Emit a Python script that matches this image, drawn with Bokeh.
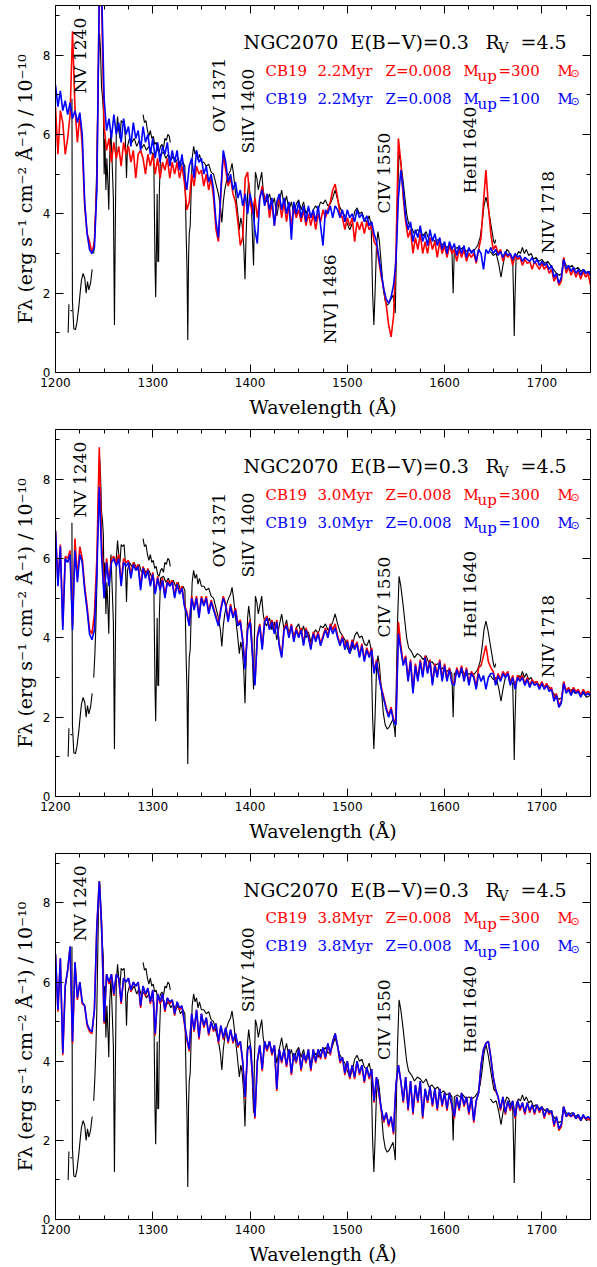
import numpy as np
from bokeh.plotting import figure
from bokeh.layouts import column
from bokeh.models import Range1d, SingleIntervalTicker, LinearAxis, CustomJSTickFormatter
from bokeh.core.properties import value
from bokeh.embed import file_html
from bokeh.resources import INLINE

# ---------------- data ----------------
# model wavelength grid (Angstrom), 2.5 A sampling from 1200 to 1750
wave_model = np.arange(1200.0, 1750.01, 2.5)

# Panel 1 : 2.2 Myr
blue_22 = [7.25, 6.7, 7.1, 6.6, 6.85, 6.5, 6.8, 6.4, 6.6, 6.3, 6.55, 6.0, 4.3, 3.5, 3.1, 3.0, 3.15, 4.6, 9.5, 9.6,
           6.9, 6.1, 6.4, 5.9, 6.5, 6.0, 6.3, 5.8, 6.4, 6.0, 6.2, 5.7, 6.3, 5.9, 6.1, 5.6, 6.2, 5.8, 6.0, 5.5,
           5.9, 5.4, 5.8, 5.3, 5.7, 5.5, 5.8, 5.2, 5.6, 5.3, 5.6, 5.1, 5.5, 5.0, 4.6, 5.2, 5.4, 4.9, 5.6, 5.3,
           5.4, 5.0, 5.2, 4.8, 5.0, 4.6, 3.8, 3.4, 4.6, 5.6, 5.3, 4.8, 5.0, 4.6, 4.8, 4.4, 4.6, 4.2, 4.5, 4.0,
           4.5, 4.2, 3.6, 3.25, 4.4, 4.6, 4.2, 4.5, 4.1, 4.4, 3.7, 4.3, 4.5, 4.1, 4.4, 4.0, 4.3, 3.35, 4.3, 4.0,
           4.3, 3.9, 4.2, 3.8, 4.2, 3.9, 4.1, 3.8, 4.2, 3.7, 3.2, 4.1, 4.0, 4.2, 3.9, 4.2, 4.1, 3.9, 4.1, 3.8,
           4.1, 3.9, 4.0, 3.8, 4.1, 3.9, 4.0, 3.8, 3.95, 3.7, 3.8, 3.5, 3.3, 2.9, 2.5, 2.1, 1.85, 1.75, 1.9, 2.2,
           2.8, 4.4, 5.1, 4.6, 3.9, 3.6, 3.8, 3.3, 3.6, 3.4, 3.7, 3.3, 3.5, 3.2, 3.6, 3.3, 3.5, 3.2, 3.4, 3.1,
           3.3, 3.0, 3.3, 3.1, 3.25, 2.95, 3.2, 3.0, 3.2, 2.9, 3.15, 3.0, 3.1, 2.8, 3.1, 3.0, 2.6, 3.1, 3.0, 3.15,
           3.0, 3.1, 2.95, 3.05, 2.9, 3.05, 2.95, 3.0, 2.85, 3.0, 2.9, 2.95, 2.8, 2.9, 2.85, 2.8, 2.9, 2.75, 2.85, 2.7,
           2.8, 2.7, 2.75, 2.6, 2.7, 2.4, 2.5, 2.25, 2.4, 2.85, 2.6, 2.7, 2.55, 2.65, 2.5, 2.6, 2.45, 2.6, 2.5, 2.55,
           2.45]
red_22 = [6.7, 5.5, 6.6, 6.3, 5.5, 5.9, 6.5, 8.6, 6.7, 5.8, 6.5, 5.7, 4.2, 3.5, 3.3, 3.0, 3.3, 4.8, 9.6, 9.2,
          6.2, 5.6, 5.9, 5.3, 5.8, 5.4, 5.7, 5.2, 5.8, 5.5, 5.7, 5.3, 5.6, 4.9, 5.5, 5.6, 5.4, 5.0, 5.5, 5.2,
          5.5, 5.0, 5.4, 4.9, 5.3, 5.1, 5.4, 4.9, 5.3, 5.0, 5.3, 4.9, 5.2, 4.8, 4.1, 4.3, 5.0, 4.7, 5.2, 5.0,
          5.1, 4.7, 5.0, 4.6, 4.9, 4.4, 3.6, 3.3, 4.5, 5.5, 5.1, 4.7, 4.9, 4.5, 4.3, 3.8, 3.2, 3.4, 4.9, 5.05,
          4.3, 4.0, 4.4, 3.9, 4.4, 4.7, 4.3, 4.5, 3.9, 4.3, 3.7, 4.2, 4.4, 3.9, 4.3, 3.8, 4.2, 3.7, 4.2, 3.9,
          4.1, 3.8, 4.1, 3.7, 4.0, 3.7, 4.0, 3.6, 4.0, 3.8, 4.1, 3.9, 4.1, 4.3, 4.6, 4.75, 4.4, 4.0, 3.9, 3.6,
          3.9, 3.7, 3.9, 3.3, 3.8, 3.6, 3.8, 3.5, 3.8, 3.6, 3.7, 3.3, 3.2, 2.8, 2.4, 2.1, 1.7, 1.2, 0.9, 1.4,
          3.0, 5.9, 5.3, 4.4, 3.8, 3.4, 3.6, 3.0, 3.4, 3.1, 3.5, 3.0, 3.3, 3.0, 3.4, 3.1, 3.3, 2.9, 3.3, 3.0,
          3.2, 2.9, 3.2, 3.0, 3.1, 2.8, 3.1, 2.9, 3.1, 2.8, 3.0, 2.9, 3.0, 2.75, 3.1, 3.4, 4.3, 5.1, 4.2, 3.5,
          3.1, 3.2, 3.0, 3.1, 2.8, 3.0, 2.9, 3.0, 2.7, 2.95, 2.85, 2.9, 2.7, 2.85, 2.75, 2.8, 2.6, 2.8, 2.7, 2.6,
          2.75, 2.6, 2.7, 2.5, 2.6, 2.3, 2.45, 2.2, 2.3, 2.9, 2.5, 2.65, 2.45, 2.6, 2.4, 2.55, 2.35, 2.55, 2.4, 2.5,
          2.2]

# Panel 2 : 3.0 Myr
blue_30 = [6.7, 5.3, 6.3, 4.2, 6.0, 5.9, 6.1, 4.2, 6.2, 5.4, 6.1, 5.9, 5.2, 4.7, 4.1, 3.95, 4.2, 5.6, 7.8, 6.0,
           5.0, 5.9, 5.3, 5.9, 6.0, 5.8, 6.0, 5.3, 5.9, 5.8, 5.9, 5.5, 5.85, 5.7, 5.8, 5.2, 5.75, 5.5, 5.7, 5.3,
           5.6, 5.1, 5.5, 5.2, 5.45, 5.0, 5.4, 5.3, 5.4, 5.0, 5.35, 5.1, 5.25, 4.8, 4.6, 4.3, 5.0, 4.7, 5.0, 4.5,
           5.0, 4.8, 5.0, 4.6, 4.9, 4.7, 4.5, 4.3, 4.7, 5.0, 4.8, 4.4, 4.8, 4.5, 4.7, 4.3, 4.4, 3.9, 3.2, 4.2,
           4.4, 3.6, 2.8, 4.0, 4.3, 3.7, 4.4, 4.5, 4.2, 4.4, 4.1, 4.4, 3.8, 3.5, 4.2, 4.3, 4.0, 4.3, 3.9, 4.2,
           4.0, 4.2, 3.8, 4.2, 4.0, 3.7, 4.1, 3.9, 4.1, 3.8, 4.0, 4.2, 4.0, 4.3, 4.1, 4.25, 4.0, 3.8, 4.0, 3.7,
           3.9, 3.6, 3.9, 3.7, 3.85, 3.5, 3.8, 3.4, 3.7, 3.5, 3.7, 3.1, 3.4, 3.0, 2.7, 2.45, 2.2, 2.0, 2.2, 1.9,
           1.8, 4.1, 3.7, 3.3, 3.5, 2.9, 3.4, 2.6, 3.3, 2.9, 3.4, 3.0, 3.5, 3.1, 3.4, 2.8, 3.3, 3.0, 3.4, 2.9,
           3.3, 2.9, 3.2, 2.85, 2.8, 3.2, 3.0, 3.25, 2.9, 3.2, 2.8, 3.1, 3.0, 2.7, 3.1, 2.9, 3.05, 2.7, 3.0, 3.1,
           3.1, 2.8, 3.05, 2.9, 3.1, 3.0, 3.1, 2.8, 3.0, 2.7, 3.0, 2.9, 3.0, 2.8, 2.95, 2.75, 2.9, 2.8, 2.85, 2.7,
           2.85, 2.7, 2.8, 2.65, 2.7, 2.4, 2.55, 2.25, 2.35, 2.85, 2.6, 2.7, 2.55, 2.7, 2.6, 2.65, 2.5, 2.65, 2.55, 2.6,
           2.55]
red_30 = [6.7, 5.4, 6.35, 4.3, 6.05, 6.0, 6.2, 4.3, 6.5, 5.5, 6.3, 6.0, 5.3, 4.8, 4.2, 4.1, 4.6, 6.0, 8.8, 6.4,
          5.1, 6.0, 5.4, 6.0, 6.05, 5.9, 6.1, 5.4, 6.0, 5.9, 5.95, 5.6, 5.9, 5.75, 5.85, 5.3, 5.8, 5.55, 5.75, 5.35,
          5.65, 5.15, 5.55, 5.25, 5.5, 5.05, 5.45, 5.35, 5.45, 5.05, 5.4, 5.15, 5.3, 4.85, 4.65, 4.35, 5.05, 4.75, 5.05, 4.55,
          5.05, 4.85, 5.05, 4.65, 4.95, 4.75, 4.55, 4.35, 4.75, 5.05, 4.85, 4.45, 4.85, 4.55, 4.75, 4.35, 4.45, 3.95, 3.25, 4.25,
          4.45, 3.65, 2.85, 4.05, 4.35, 3.75, 4.45, 4.55, 4.25, 4.45, 4.15, 4.45, 3.85, 3.55, 4.25, 4.35, 4.05, 4.35, 3.95, 4.25,
          4.05, 4.25, 3.85, 4.25, 4.05, 3.75, 4.15, 3.95, 4.15, 3.85, 4.05, 4.25, 4.05, 4.35, 4.2, 4.35, 4.05, 3.85, 4.05, 3.75,
          3.95, 3.65, 3.95, 3.75, 3.9, 3.55, 3.85, 3.45, 3.75, 3.55, 3.75, 3.15, 3.45, 3.05, 2.75, 2.5, 2.25, 2.05, 2.25, 1.95,
          1.85, 4.4, 3.8, 3.35, 3.55, 2.95, 3.45, 2.65, 3.35, 2.95, 3.45, 3.05, 3.55, 3.15, 3.45, 2.85, 3.35, 3.05, 3.45, 2.95,
          3.35, 2.95, 3.25, 2.9, 2.85, 3.25, 3.05, 3.3, 2.95, 3.25, 2.85, 3.15, 3.05, 2.75, 3.25, 3.3, 3.55, 3.8, 3.4, 3.25,
          3.15, 2.85, 3.1, 2.95, 3.15, 3.05, 3.15, 2.85, 3.05, 2.75, 3.05, 2.95, 3.05, 2.85, 3.0, 2.8, 2.95, 2.85, 2.9, 2.75,
          2.9, 2.75, 2.85, 2.7, 2.75, 2.45, 2.6, 2.3, 2.4, 2.9, 2.65, 2.75, 2.6, 2.75, 2.65, 2.7, 2.55, 2.7, 2.6, 2.65,
          2.6]

# Panel 3 : 3.8 Myr
blue_38 = [6.7, 5.3, 6.6, 4.2, 5.9, 6.3, 6.9, 4.5, 6.5, 5.6, 6.0, 5.5, 5.4, 4.95, 4.8, 4.75, 5.3, 7.4, 8.55, 7.4,
           5.0, 6.2, 6.0, 6.2, 5.7, 6.2, 6.1, 5.5, 6.1, 6.0, 6.1, 5.8, 6.0, 5.9, 6.0, 5.4, 5.9, 5.7, 5.85, 5.5,
           5.8, 4.7, 5.7, 5.5, 5.7, 5.3, 5.6, 5.5, 5.55, 5.2, 5.5, 5.35, 5.4, 5.0, 4.6, 4.3, 5.2, 4.8, 5.3, 4.6,
           5.2, 4.9, 5.1, 4.7, 5.0, 4.8, 4.95, 4.5, 4.9, 4.6, 4.85, 4.5, 4.8, 4.5, 4.7, 4.4, 4.5, 4.0, 3.1, 4.3,
           4.4, 3.7, 2.6, 4.0, 4.4, 3.8, 4.5, 4.3, 4.5, 4.2, 4.4, 3.3, 4.3, 4.0, 4.3, 3.9, 4.3, 3.7, 4.2, 4.0,
           4.3, 3.8, 4.2, 4.0, 4.3, 3.8, 4.3, 4.0, 4.3, 4.1, 4.35, 4.1, 4.45, 4.2, 4.5, 4.7, 4.4, 4.0, 4.1, 3.7,
           4.0, 3.6, 3.9, 3.6, 4.0, 3.7, 3.9, 3.5, 3.85, 3.6, 3.8, 3.0, 3.6, 3.2, 2.8, 2.5, 2.7, 2.4, 2.6, 2.2,
           3.4, 3.9, 3.5, 3.0, 3.6, 2.8, 3.5, 2.7, 3.4, 3.0, 3.5, 2.6, 3.3, 3.0, 3.35, 2.9, 3.3, 2.8, 3.3, 2.9,
           3.2, 2.8, 3.2, 2.9, 2.6, 3.1, 2.8, 3.2, 2.9, 3.1, 2.7, 3.1, 2.5, 3.0, 3.2, 3.9, 4.3, 4.45, 4.5, 4.1,
           3.6, 3.3, 3.1, 2.8, 3.1, 2.7, 3.0, 2.8, 3.0, 2.6, 3.0, 2.8, 2.95, 2.7, 2.95, 2.75, 2.9, 2.7, 2.9, 2.75,
           2.85, 2.6, 2.8, 2.7, 2.75, 2.4, 2.6, 2.3, 2.4, 2.85, 2.6, 2.7, 2.6, 2.7, 2.55, 2.65, 2.5, 2.65, 2.55, 2.6,
           2.55]
red_38 = [6.7, 5.25, 6.6, 4.15, 5.9, 6.3, 6.9, 4.45, 6.5, 5.55, 6.0, 5.45, 5.4, 4.9, 4.75, 4.7, 5.3, 7.4, 8.55, 7.4,
          4.95, 6.2, 5.95, 6.2, 5.65, 6.2, 6.1, 5.45, 6.1, 6.0, 6.1, 5.75, 6.0, 5.9, 6.0, 5.35, 5.9, 5.65, 5.85, 5.45,
          5.8, 4.65, 5.7, 5.45, 5.7, 5.25, 5.6, 5.45, 5.55, 5.15, 5.5, 5.3, 5.4, 4.95, 4.55, 4.25, 5.2, 4.75, 5.3, 4.55,
          5.2, 4.85, 5.1, 4.65, 5.0, 4.75, 4.95, 4.45, 4.9, 4.55, 4.85, 4.45, 4.8, 4.45, 4.7, 4.35, 4.5, 3.95, 3.05, 4.3,
          4.4, 3.65, 2.55, 4.0, 4.4, 3.75, 4.5, 4.25, 4.5, 4.15, 4.4, 3.25, 4.3, 3.95, 4.3, 3.85, 4.3, 3.65, 4.2, 3.95,
          4.3, 3.75, 4.2, 3.95, 4.3, 3.75, 4.3, 3.95, 4.3, 4.05, 4.35, 4.05, 4.45, 4.15, 4.5, 4.7, 4.4, 3.95, 4.1, 3.65,
          4.0, 3.55, 3.9, 3.55, 4.0, 3.65, 3.9, 3.45, 3.85, 3.55, 3.8, 2.95, 3.6, 3.15, 2.75, 2.45, 2.7, 2.35, 2.6, 2.15,
          3.4, 3.9, 3.5, 2.95, 3.6, 2.75, 3.5, 2.65, 3.4, 2.95, 3.5, 2.55, 3.3, 2.95, 3.35, 2.85, 3.3, 2.75, 3.3, 2.85,
          3.2, 2.75, 3.2, 2.85, 2.55, 3.1, 2.75, 3.2, 2.85, 3.1, 2.65, 3.1, 2.45, 3.0, 3.2, 3.9, 4.3, 4.45, 4.5, 4.1,
          3.6, 3.25, 3.1, 2.75, 3.1, 2.65, 3.0, 2.75, 3.0, 2.55, 3.0, 2.75, 2.95, 2.65, 2.95, 2.7, 2.9, 2.65, 2.9, 2.7,
          2.85, 2.55, 2.8, 2.65, 2.75, 2.35, 2.6, 2.25, 2.35, 2.85, 2.6, 2.65, 2.6, 2.65, 2.55, 2.6, 2.5, 2.6, 2.55, 2.55,
          2.5]

# Observed NGC2070 spectrum (None = gap between observed segments)
obs_wave = [1213.0, 1213.8, None,
            1215.4, 1217.0, None,
            1216.9, 1217.4, 1218.8, 1220.5, 1222.0, 1224.0, 1225.5, 1226.7, 1228.4, 1230.1, 1231.5, 1232.9,
            1234.3, 1236.0, 1237.7, None,
            1239.3, 1240.5, 1241.5, 1242.5, 1243.5, 1244.5, 1245.3, 1246.3, 1247.3, 1248.3, 1249.2, 1250.0,
            1250.8, 1251.8, 1252.8, 1254.0, 1254.8, 1255.8, 1257.0, 1258.2, 1259.5, 1260.6, 1261.6, 1262.5,
            1263.8, 1265.0, 1266.3, 1267.5, 1269.0, 1270.5, 1271.8, 1273.0, 1274.0, 1276.0, 1278.5, 1281.0,
            1283.5, 1286.0, 1288.5, 1291.0, 1293.5, 1296.0, 1298.5, 1301.0, 1302.3, 1303.0, 1303.7, 1304.5,
            1305.2, 1306.0, 1306.8, 1308.0, 1311.0, 1313.5, 1316.0, 1318.5, 1321.0, 1323.5, 1326.0, 1328.5,
            1331.0, 1333.0, 1334.3, 1335.2, 1336.0, 1336.8, 1337.5, 1338.5, 1339.5, 1340.5, 1342.0, 1343.5,
            1345.0, 1346.5, 1348.0, 1350.0, 1352.5, 1355.0, 1357.5, 1360.0, 1362.5, 1365.0, 1367.5, 1369.5,
            1371.0, 1372.5, 1374.0, 1376.0, 1378.0, 1380.0, 1381.5, 1383.0, 1385.0, 1387.0, 1389.0, 1390.5,
            1392.0, 1393.5, 1394.8, 1396.0, 1397.5, 1398.6, 1400.0, 1401.5, 1402.5, 1403.6, 1404.5, 1405.5,
            1407.0, 1408.5, 1410.0, 1412.0, 1413.5, 1415.0, 1417.0, 1420.0, 1422.5, 1425.0, 1427.5, 1430.0,
            1432.5, 1435.0, 1437.5, 1440.0, 1442.5, 1445.0, 1447.5, 1450.0, 1452.5, 1455.0, 1457.5, 1460.0,
            1462.5, 1465.0, 1467.5, 1470.0, 1472.5, 1475.0, 1477.5, 1480.0, 1482.5, 1485.0, 1487.5, 1490.0,
            1492.5, 1495.0, 1497.5, 1500.0, 1502.5, 1505.0, 1507.5, 1510.0, 1512.5, 1515.0, 1517.5, 1520.0,
            1522.5, 1524.5, 1526.0, 1527.3, 1528.5, 1530.0, 1531.5, 1533.0, 1535.0, 1537.0, 1539.0, 1541.0,
            1543.0, 1545.0, 1547.0, 1548.5, 1549.3, 1550.3, 1551.5, 1553.2, 1555.0, 1557.0, 1559.0, 1561.0,
            1563.0, 1566.0, 1569.0, 1572.0, 1575.0, 1578.0, 1581.0, 1584.0, 1587.0, 1590.0, 1593.0, 1596.0,
            1599.0, 1602.0, 1605.0, 1607.5, 1608.8, 1610.0, 1613.0, 1616.0, 1619.0, 1622.0, 1625.0, 1628.0,
            1631.0, 1634.0, 1636.5, 1638.5, 1640.5, 1642.5, 1644.5, 1646.5, 1648.5, 1650.5, 1651.5, 1652.5, None,
            1647.0, 1650.0, 1653.0, 1655.5, 1658.0, 1660.0, 1662.0, 1664.0, 1666.0, 1668.0, 1670.0, 1671.0,
            1671.6, 1672.3, 1673.5, 1676.0, 1678.0, 1680.0, 1682.0, 1684.0, 1686.5, 1689.0, 1691.5, 1694.0,
            1697.0, 1700.0, 1703.0, 1706.0, 1709.0, 1712.0, 1715.0, 1718.0, 1720.5, 1722.0, 1725.0, 1728.0,
            1731.0, 1734.0, 1737.0, 1740.0, 1743.0, 1746.0, 1750.0, None,
            1290.0, 1291.5, 1293.0, 1294.5, 1296.0, 1297.5, 1299.0, 1300.5, 1302.0, 1303.5, 1305.0, 1306.5,
            1308.0, 1309.5, 1311.0, 1312.5, 1314.0, 1315.5, 1317.0, 1318.0]
obs_flux = [1.0, 1.72, None,
            1.57, 1.55, None,
            6.9, 1.8, 1.1, 1.08, 1.25, 1.66, 2.05, 2.33, 2.5, 2.37, 2.0, 2.29,
            2.08, 2.25, 2.6, None,
            3.0, 3.6, 4.3, 5.3, 6.8, 8.2, 8.55, 8.1, 7.2, 6.95, 6.6, 5.0,
            5.9, 4.6, 5.4, 4.7, 4.1, 5.5, 6.1, 5.3, 4.4, 1.2, 4.0, 6.0,
            6.45, 6.1, 5.9, 6.35, 6.3, 6.35, 5.9, 4.9, 5.7, 5.9, 5.8, 5.9,
            5.7, 5.85, 5.65, 5.75, 5.6, 5.7, 5.55, 5.5, 2.75, 1.9, 3.0, 4.5,
            2.8, 2.8, 4.6, 5.5, 5.55, 5.4, 5.5, 5.35, 5.45, 5.3, 5.4, 5.2,
            5.3, 5.2, 3.5, 2.6, 0.82, 2.9, 3.5, 3.7, 4.6, 5.4, 5.7, 5.5,
            5.6, 5.35, 5.5, 5.3, 5.3, 5.2, 5.25, 5.05, 5.0, 4.75, 4.5, 4.2,
            3.78, 4.3, 4.6, 4.85, 5.0, 5.1, 5.27, 5.0, 4.55, 4.1, 3.6, 3.9,
            3.7, 3.2, 2.35, 3.5, 4.5, 4.8, 4.5, 4.2, 3.4, 2.7, 4.0, 5.05,
            4.9, 4.6, 4.8, 5.05, 4.6, 4.4, 4.3, 4.5, 4.2, 4.4, 3.95, 4.3,
            4.6, 4.2, 4.45, 4.1, 4.3, 4.0, 4.25, 4.35, 4.1, 4.3, 4.0, 4.15,
            3.9, 4.1, 4.2, 4.1, 4.3, 4.25, 4.35, 4.2, 4.25, 4.4, 4.6, 4.35,
            4.15, 4.05, 3.95, 3.75, 3.6, 3.75, 4.05, 4.15, 4.0, 4.05, 3.85, 3.8,
            3.95, 3.7, 2.0, 1.2, 2.0, 3.2, 3.55, 3.3, 2.7, 2.1, 1.8, 1.7,
            1.75, 1.85, 1.95, 1.7, 1.5, 2.8, 4.3, 5.55, 5.3, 4.9, 4.45, 4.0,
            3.75, 3.65, 3.5, 3.6, 3.55, 3.45, 3.55, 3.35, 3.4, 3.3, 3.35, 3.2,
            3.25, 3.15, 3.2, 3.1, 2.0, 3.1, 3.15, 3.1, 3.15, 3.05, 3.1, 3.05,
            3.1, 3.2, 3.4, 3.75, 4.2, 4.42, 4.2, 3.9, 3.6, 3.3, 3.25, 3.35, None,
            3.05, 2.95, 3.0, 2.75, 2.4, 2.7, 2.95, 3.1, 3.05, 2.9, 2.85, 1.8,
            0.92, 1.8, 2.9, 3.05, 3.0, 3.15, 3.0, 3.1, 2.95, 3.0, 2.85, 2.9,
            2.8, 2.85, 2.75, 2.8, 2.7, 2.6, 2.5, 2.45, 2.5, 2.85, 2.7, 2.65,
            2.7, 2.6, 2.65, 2.55, 2.6, 2.5, 2.55, None,
            6.5, 6.3, 6.35, 6.1, 5.95, 6.1, 5.9, 5.95, 5.75, 5.8, 5.6, 5.55,
            5.7, 5.75, 5.65, 5.9, 5.85, 6.0, 5.95, 5.8]

ages = ["2.2Myr", "3.0Myr", "3.8Myr"]
red_series = [red_22, red_30, red_38]
blue_series = [blue_22, blue_30, blue_38]

# vertical line identifications per panel: (text, x of the text baseline, y where the text starts)
line_ids = [
    [("NV 1240", 1225.7, 7.03), ("OV 1371", 1367.6, 6.05), ("SiIV 1400", 1397.4, 5.52),
     ("NIV] 1486", 1482.7, 0.73), ("CIV 1550", 1537.2, 4.01), ("HeII 1640", 1626.6, 4.51),
     ("NIV 1718", 1706.8, 3.0)],
    [("NV 1240", 1225.7, 7.03), ("OV 1371", 1367.6, 5.77), ("SiIV 1400", 1397.4, 5.52),
     ("CIV 1550", 1537.2, 4.01), ("HeII 1640", 1626.6, 4.0), ("NIV 1718", 1706.8, 3.0)],
    [("NV 1240", 1225.7, 7.03), ("SiIV 1400", 1397.4, 5.24), ("CIV 1550", 1537.2, 4.03),
     ("HeII 1640", 1626.6, 4.21)],
]

SERIF = "DejaVu Serif"


def add_text(p, x, y, s, size, color="black", font=SERIF, angle=0.0):
    p.text(x=[x], y=[y], text=[s], text_font=value(font), text_font_size=value(size),
           text_color=color, text_align="left", text_baseline="alphabetic", angle=angle)


def style_axis(ax, show_labels):
    ax.axis_line_color = "black"
    ax.axis_line_width = 1
    ax.major_tick_line_color = "black"
    ax.minor_tick_line_color = "black"
    ax.major_tick_in = 8
    ax.major_tick_out = 0
    ax.minor_tick_in = 4
    ax.minor_tick_out = 0
    if show_labels:
        ax.major_label_text_font = "DejaVu Sans"
        ax.major_label_text_font_size = "12px"
        ax.major_label_text_color = "black"
        ax.major_label_standoff = 5
    else:
        ax.formatter = CustomJSTickFormatter(code="return ''")
        ax.major_label_standoff = 0


def make_panel(i, height, bottom):
    p = figure(width=597, height=height, x_range=Range1d(1200, 1750), y_range=Range1d(0, 9.25),
               output_backend="svg", toolbar_location=None,
               min_border_left=55, min_border_right=7, min_border_top=5, min_border_bottom=bottom)
    p.xgrid.visible = False
    p.ygrid.visible = False
    p.outline_line_color = "black"
    p.outline_line_width = 1
    p.background_fill_color = "white"
    p.border_fill_color = "white"

    p.xaxis[0].ticker = SingleIntervalTicker(interval=100, num_minor_ticks=4)
    p.yaxis[0].ticker = SingleIntervalTicker(interval=2, num_minor_ticks=2)
    style_axis(p.xaxis[0], True)
    style_axis(p.yaxis[0], True)
    p.xaxis[0].axis_label = "Wavelength (Å)"
    p.yaxis[0].axis_label = "Fλ (erg s⁻¹ cm⁻² Å⁻¹) / 10⁻¹⁰"
    for ax in (p.xaxis[0], p.yaxis[0]):
        ax.axis_label_text_font = SERIF
        ax.axis_label_text_font_size = "19px"
        ax.axis_label_text_font_style = "normal"
        ax.axis_label_text_color = "black"
    p.xaxis[0].axis_label_standoff = 6
    p.yaxis[0].axis_label_standoff = 4

    top = LinearAxis(ticker=SingleIntervalTicker(interval=100, num_minor_ticks=4))
    right = LinearAxis(ticker=SingleIntervalTicker(interval=2, num_minor_ticks=2))
    style_axis(top, False)
    style_axis(right, False)
    p.add_layout(top, "above")
    p.add_layout(right, "right")

    ow = np.array(obs_wave, dtype=float)
    of = np.array(obs_flux, dtype=float)
    p.line(ow, of, line_color="black", line_width=1.1)
    p.line(wave_model, red_series[i], line_color="#ff0000", line_width=1.6)
    p.line(wave_model, blue_series[i], line_color="#0000ff", line_width=1.6)

    # header
    add_text(p, 1393.3, 8.32, "NGC2070", "19px")
    add_text(p, 1503.3, 8.32, "E(B−V)=0.3", "19px")
    add_text(p, 1642.1, 8.32, "R", "19px")
    add_text(p, 1655.4, 8.17, "V", "14px")
    add_text(p, 1678.0, 8.32, "=4.5", "19px")

    for color, mup, yb in (("#ff0000", "300", 7.61), ("#0000ff", "100", 6.90)):
        add_text(p, 1415.9, yb, "CB19", "15px", color)
        add_text(p, 1469.3, yb, ages[i], "15px", color)
        add_text(p, 1539.3, yb, "Z=0.008", "15px", color)
        add_text(p, 1619.4, yb, "M", "15px", color)
        add_text(p, 1633.8, yb - 0.13, "up", "15px", color)
        add_text(p, 1655.4, yb, "=" + mup, "15px", color)
        add_text(p, 1716.1, yb, "M", "15px", color)
        add_text(p, 1729.4, yb - 0.08, "⊙", "11px", color, font="DejaVu Sans")

    for s, x, y in line_ids[i]:
        add_text(p, x, y, s, "17px", angle=np.pi / 2)
    return p


p1 = make_panel(0, 424, 52)
p2 = make_panel(1, 424, 52)
p3 = make_panel(2, 419, 47)
layout = column(p1, p2, p3, spacing=0)

open("out.html", "w").write(file_html(layout, INLINE))
